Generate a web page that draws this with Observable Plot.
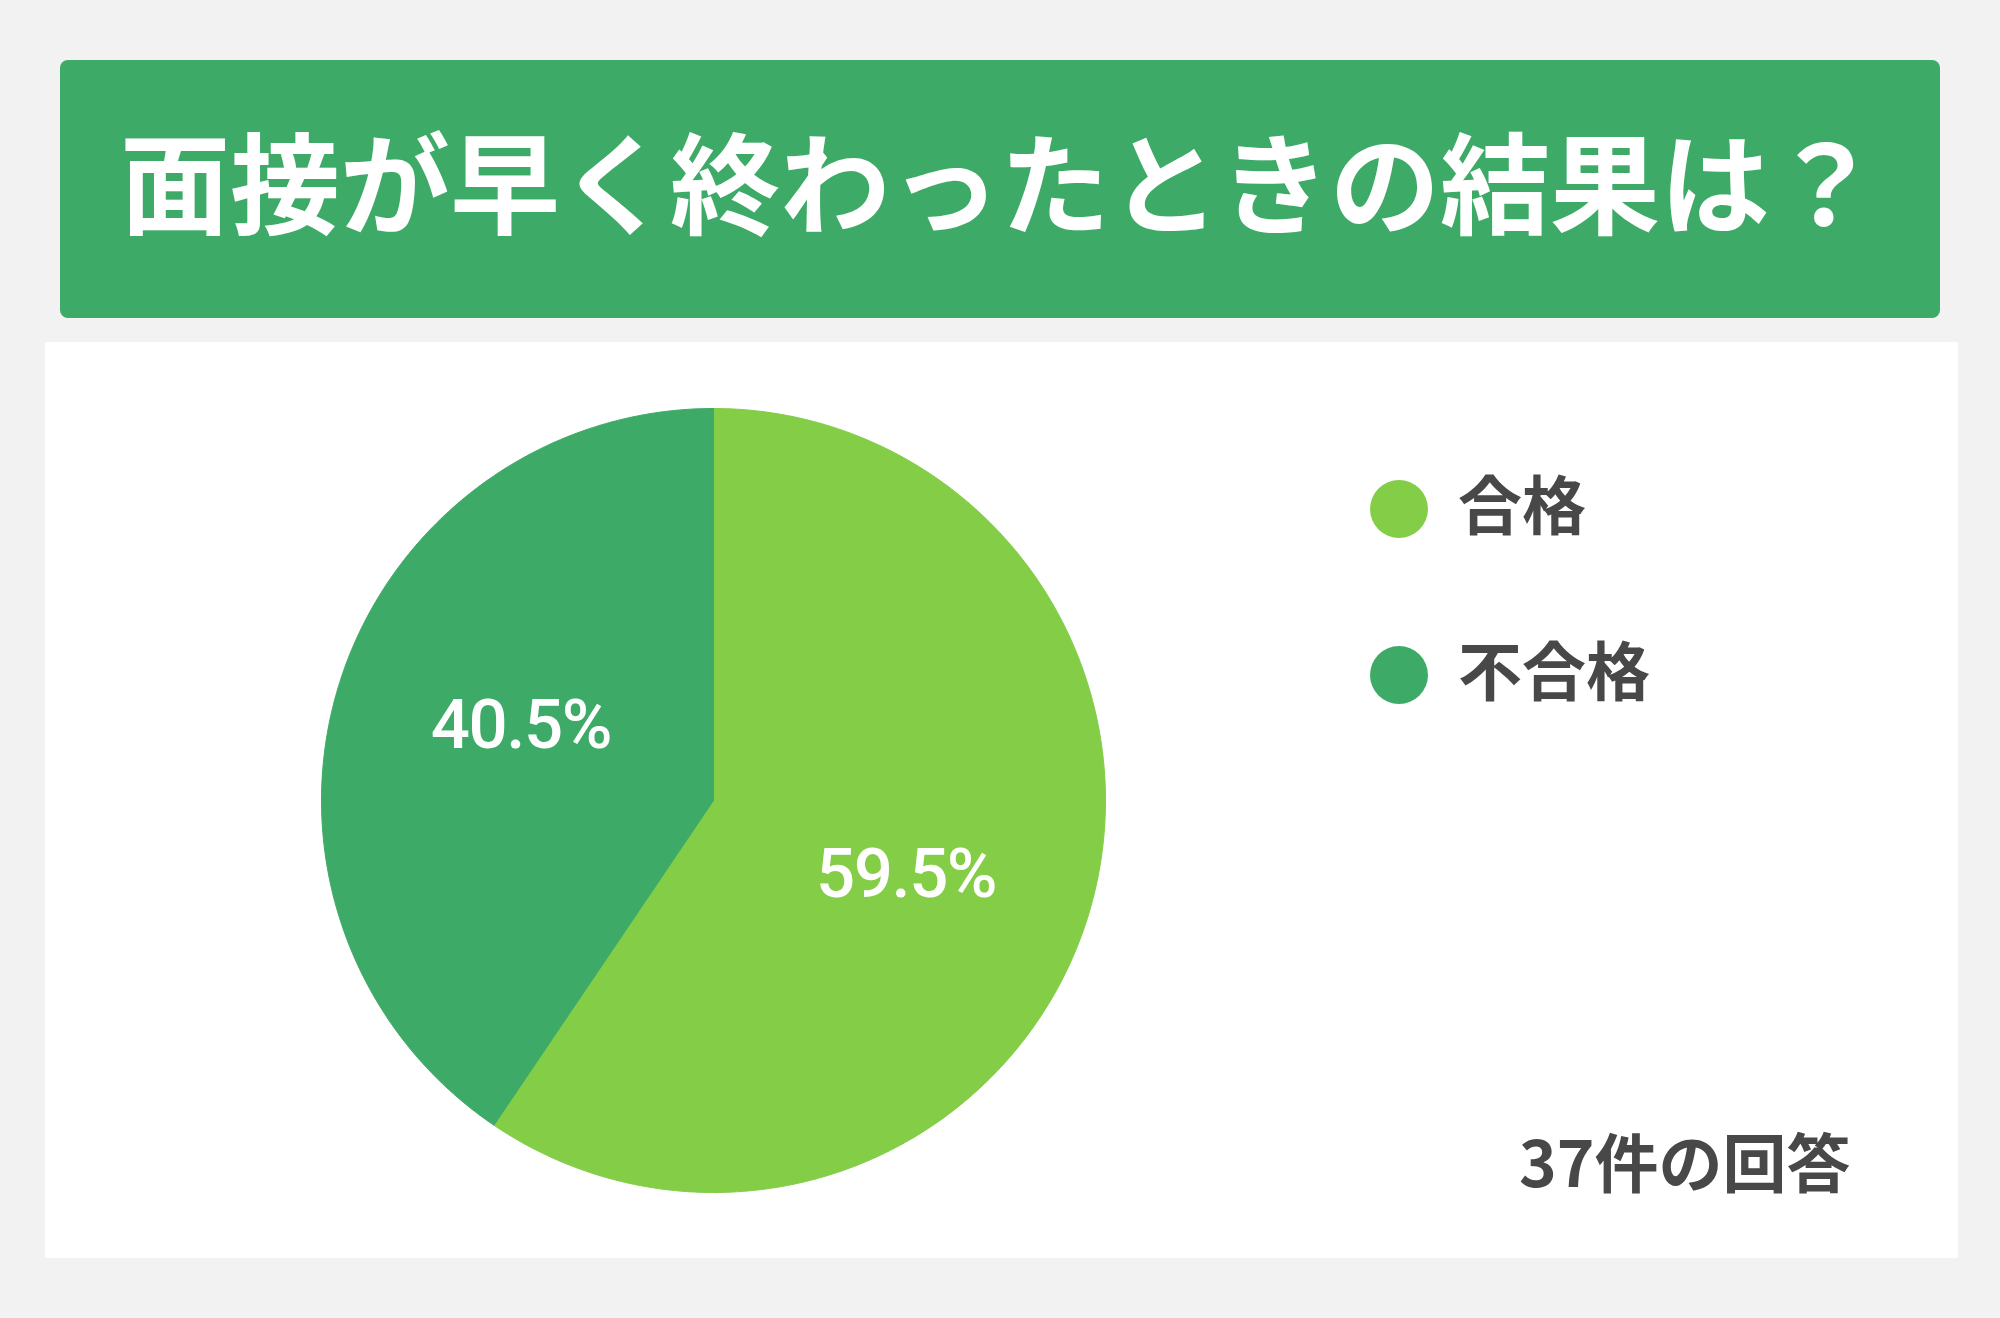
<!DOCTYPE html>
<html lang="ja">
<head>
<meta charset="utf-8">
<script src="https://cdn.jsdelivr.net/npm/d3@7"></script>
<script src="https://cdn.jsdelivr.net/npm/@observablehq/plot@0.6"></script>
<style>
  html, body { margin: 0; padding: 0; }
  body {
    width: 2000px; height: 1318px; position: relative; overflow: hidden;
    background: #f2f2f2;
    font-family: "Noto Sans CJK JP", "Noto Sans", sans-serif;
  }
  #title {
    position: absolute; left: 60px; top: 60px; width: 1880px; height: 258px;
    background: #3dab67; border-radius: 8px; color: #fff;
    font-size: 110px; font-weight: 700; line-height: 1;
    display: flex; align-items: center; justify-content: center;
    box-sizing: border-box; padding-bottom: 22px;
  }
  #panel {
    position: absolute; left: 45px; top: 342px; width: 1913px; height: 916px;
    background: #fff;
  }
  #chart { position: absolute; left: 0; top: 0; }
  #chart text { letter-spacing: -1.5px; }
  .legend-row {
    position: absolute; left: 1325px; height: 58px;
    display: flex; align-items: center;
  }
  .swatch { width: 58px; height: 58px; border-radius: 50%; margin-right: 30px; }
  .legend-label {
    font-size: 64px; font-weight: 700; color: #484848; line-height: 58px;
    position: relative; top: -8px;
  }
  #caption {
    position: absolute; left: 1474px; top: 788px; height: 58px;
    font-size: 64px; font-weight: 700; color: #484848; line-height: 58px;
  }
</style>
</head>
<body>
<div id="title"></div>
<div id="panel">
  <div id="chart"></div>
  <div id="legend"></div>
  <div id="caption"></div>
</div>
<script>
const titleText = "面接が早く終わったときの結果は？";
const categories = ["合格", "不合格"];
const counts = [22, 15];
const colors = ["#83cd47", "#3dab67"];
const captionText = "37件の回答";

const total = d3.sum(counts);
const arcs = d3.pie().sort(null)(counts);

// wedge outlines in unit-circle space (angle measured clockwise from top)
const wedgePoints = [];
arcs.forEach((a, i) => {
  const cat = categories[i];
  wedgePoints.push({cat, x: 0, y: 0});
  const steps = Math.max(2, Math.ceil((a.endAngle - a.startAngle) / (Math.PI / 360)));
  for (let k = 0; k <= steps; k++) {
    const t = a.startAngle + (a.endAngle - a.startAngle) * k / steps;
    wedgePoints.push({cat, x: Math.sin(t), y: Math.cos(t)});
  }
  wedgePoints.push({cat, x: 0, y: 0});
});

const labelRadius = 0.527;
const labelTurn = 0.073;
const labelData = arcs.map((a, i) => {
  const m = (a.startAngle + a.endAngle) / 2 + labelTurn;
  return {
    cat: categories[i],
    x: labelRadius * Math.sin(m),
    y: labelRadius * Math.cos(m),
    text: (counts[i] / total * 100).toFixed(1) + "%"
  };
});

const cx = 668, cy = 458, r = 392;
const chart = Plot.plot({
  width: 1913,
  height: 916,
  margin: 0,
  style: {background: "transparent"},
  x: {domain: [-1, 1], range: [cx - r, cx + r], axis: null},
  y: {domain: [-1, 1], range: [cy + r, cy - r], axis: null},
  color: {domain: categories, range: colors},
  marks: [
    Plot.line(wedgePoints, {x: "x", y: "y", z: "cat", fill: "cat", stroke: "cat", strokeWidth: 1, curve: "linear"}),
    Plot.text(labelData, {
      x: "x", y: "y", text: "text", fill: "white",
      fontSize: 69, fontWeight: 500, fontFamily: "Roboto"
    })
  ]
});
document.getElementById("chart").appendChild(chart);

const legend = document.getElementById("legend");
categories.forEach((c, i) => {
  const row = document.createElement("div");
  row.className = "legend-row";
  row.style.top = (138 + i * 166) + "px";
  const sw = document.createElement("div");
  sw.className = "swatch";
  sw.style.background = colors[i];
  const lab = document.createElement("div");
  lab.className = "legend-label";
  lab.textContent = c;
  row.appendChild(sw);
  row.appendChild(lab);
  legend.appendChild(row);
});
document.getElementById("caption").textContent = captionText;
document.getElementById("title").textContent = titleText;
</script>
</body>
</html>
